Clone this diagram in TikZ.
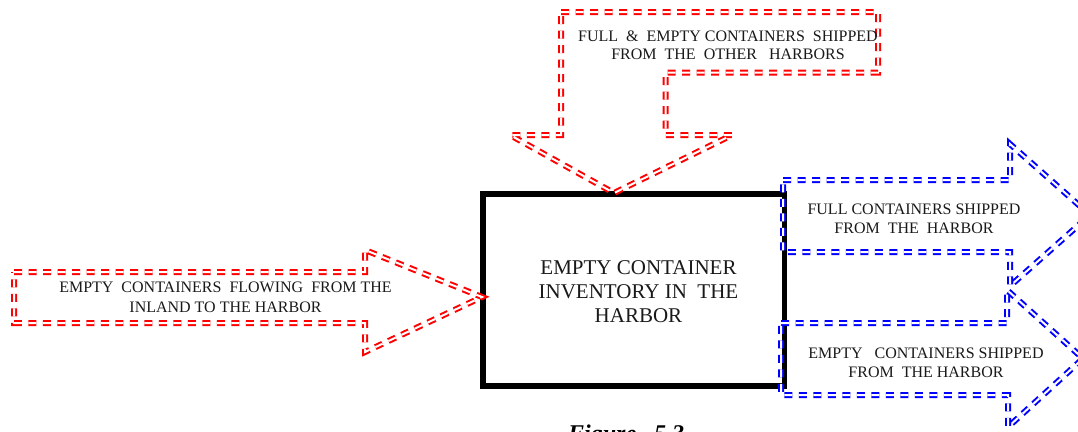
\documentclass[tikz,border=0pt]{standalone}
\usepackage{fontspec}
\setmainfont{Liberation Serif}
\begin{document}
\begin{tikzpicture}[x=1pt,y=-1pt,
  redarrow/.style={draw=red, double=white, double distance=2pt, line width=2pt, dash pattern=on 8pt off 6.5pt, line join=miter},
  bluearrow/.style={draw=blue, double=white, double distance=2pt, line width=2pt, dash pattern=on 8pt off 6.5pt, line join=miter},
  smalltext/.style={font=\fontsize{16}{19}\selectfont, align=center, inner sep=0pt, text=black!90},
  bigtext/.style={font=\fontsize{21}{24}\selectfont, align=center, inner sep=0pt, text=black!90},
  invbox/.style={draw=black, line width=5.5pt, minimum width=301.5pt, minimum height=192pt, inner sep=0pt}
]
\useasboundingbox (0,0) rectangle (1078,431);

% main inventory box
\node[invbox] (inv) at (633.75,290) {};
\node[bigtext] (invtext) at ([shift={(4.75,1.5)}]inv.center) {EMPTY CONTAINER\\INVENTORY IN\ \ THE\\HARBOR};

% top red bent arrow (from other harbors)
\coordinate (toptip) at (614,193);
\draw[redarrow] (561,12) -- (878,12) -- (878,72.7) -- (665.7,72.7) -- (665.7,135) -- (732,135) -- (toptip) -- (510,135) -- (561,135) -- cycle;
\node[smalltext, font=\fontsize{16}{18.3}\selectfont] (toptext) at (728,45.5) {FULL\ \ \&\ \ EMPTY CONTAINERS\ \ SHIPPED\\FROM\ \ THE\ \ OTHER\ \ \ HARBORS};

% left red arrow (from inland)
\coordinate (lefttip) at (482,297);
\draw[redarrow] (14,272) -- (365,272) -- (365,250) -- (lefttip) -- (365,352) -- (365,323) -- (14,323) -- cycle;
\node[smalltext, font=\fontsize{16}{20}\selectfont] (lefttext) at (225.5,297.7) {EMPTY\ \ CONTAINERS\ \ FLOWING\ \ FROM THE\\INLAND TO THE HARBOR};

% upper blue arrow (full containers shipped)
\coordinate (bluetipA) at (1090,215);
\draw[bluearrow] (783,180) -- (1010,180) -- (1010,144) -- (bluetipA) -- (1010,286) -- (1010,252) -- (783,252) -- cycle;
\node[smalltext] (bluetextA) at (914,219) {FULL CONTAINERS SHIPPED\\FROM\ \ THE\ \ HARBOR};

% lower blue arrow (empty containers shipped)
\coordinate (bluetipB) at (1083,358.5);
\draw[bluearrow] (781,323) -- (1007,323) -- (1007,290) -- (bluetipB) -- (1008,427) -- (1008,395) -- (781,395) -- cycle;
\node[smalltext] (bluetextB) at (926,363) {EMPTY\ \ \ CONTAINERS SHIPPED\\FROM\ \ THE HARBOR};

% caption (cut off at bottom, as in the reference)
\node[anchor=base west, inner sep=0pt, font=\fontsize{24}{28}\selectfont\bfseries\itshape] (caption) at (568,441) {Figure\ \ \ 5.3};
\end{tikzpicture}
\end{document}
